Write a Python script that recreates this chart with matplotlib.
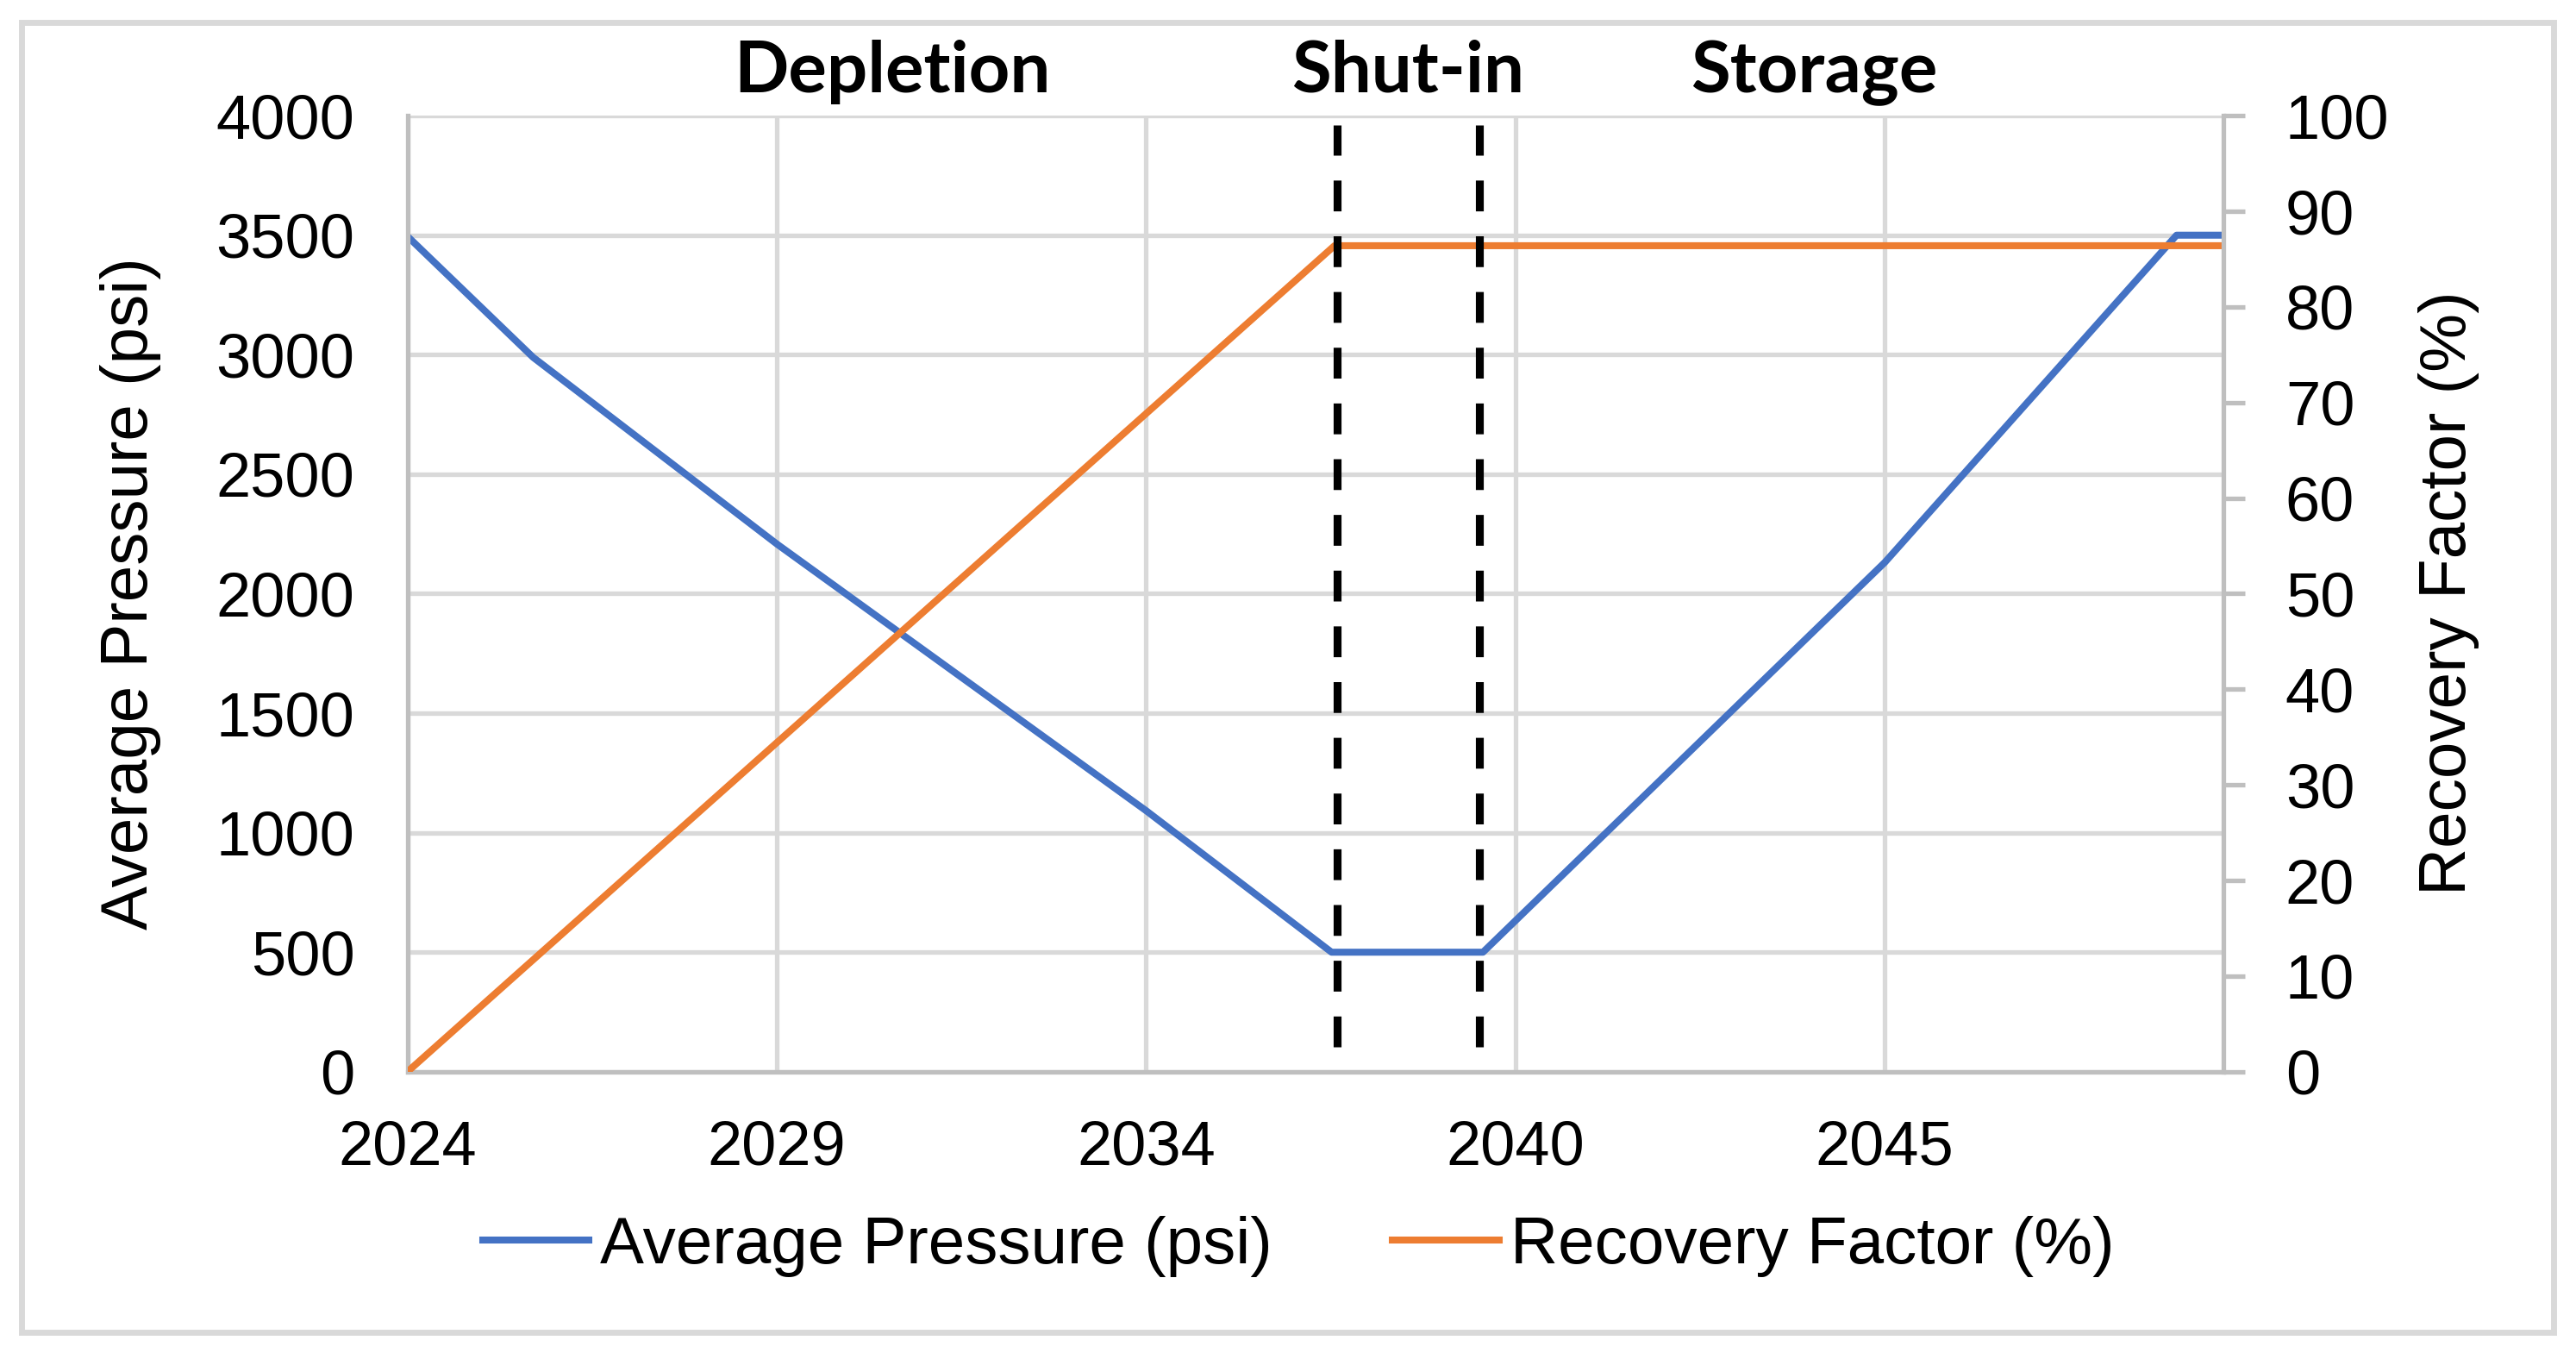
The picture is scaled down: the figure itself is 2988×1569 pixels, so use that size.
import numpy as np
import matplotlib.pyplot as plt
from matplotlib.patches import Rectangle

plt.rcParams['font.family'] = ['Liberation Sans', 'DejaVu Sans']

# years after Jan 2024
p_years = [0, 1.70, 5.0, 10.0, 12.51, 14.56, 20.0, 23.95, 24.58]
p_psi = [3495, 2989, 2208, 1092, 500, 500, 2131, 3500, 3500]
rf_years = [0, 12.55, 24.58]
rf_pct = [0, 86.4, 86.4]

x_ticks = [0, 5, 10, 15, 20]
x_labels = ['2024', '2029', '2034', '2040', '2045']
shutin = [12.59, 14.51]
shutin_span = [2.6, 99.0]   # in % (right axis)
phase_names = ['Depletion', 'Shut-in', 'Storage']
phase_x = [6.56, 13.54, 19.04]

blue = '#4472C4'
orange = '#ED7D31'
grey = '#bfbfbf'
grid = '#d9d9d9'

fig = plt.figure(figsize=(14.94, 7.845), dpi=200)
ax = fig.add_axes([0.1582, 0.2079, 0.863 - 0.1582, 0.9145 - 0.2079])
ax2 = ax.twinx()

l1, = ax.plot(p_years, p_psi, color=blue, lw=2.9, label='Average Pressure (psi)')
ax.set_xlim(0, 24.58)
ax.set_ylim(0, 4000)
ax.set_yticks(np.arange(0, 4001, 500))
ax.set_xticks(x_ticks)
ax.set_xticklabels(x_labels)
ax.grid(True, color=grid, lw=1.9)
ax.set_axisbelow(True)
ax.tick_params(axis='y', length=0, pad=22, labelsize=26)
ax.tick_params(axis='x', length=0, pad=20, labelsize=26)
ax.spines['top'].set_visible(False)
ax.spines['right'].set_visible(False)
for s in ['left', 'bottom']:
    ax.spines[s].set_color(grey)
    ax.spines[s].set_linewidth(1.9)

l2, = ax2.plot(rf_years, rf_pct, color=orange, lw=2.9, label='Recovery Factor (%)')
for xs in shutin:
    ax2.plot([xs, xs], shutin_span, color='black', lw=3.3, linestyle=(0, (3.9, 3.15)), zorder=5)
ax2.set_ylim(0, 100)
ax2.set_yticks(np.arange(0, 101, 10))
ax2.tick_params(axis='y', length=9, width=1.9, color=grey, pad=17, labelsize=26)
for s in ['left', 'bottom', 'top']:
    ax2.spines[s].set_visible(False)
ax2.spines['right'].set_color(grey)
ax2.spines['right'].set_linewidth(1.9)

for name, xp in zip(phase_names, phase_x):
    ax.text(xp, 1.0245, name, transform=ax.get_xaxis_transform(), ha='center', va='baseline',
            fontfamily='Lato', fontweight='bold', fontsize=30)

fig.text(152 / 2988, 1 - 688 / 1569, 'Average Pressure (psi)', rotation=90, ha='center', va='center',
         rotation_mode='anchor', fontsize=27.5)
fig.text(2840 / 2988, 1 - 688 / 1569, 'Recovery Factor (%)', rotation=90, ha='center', va='center',
         rotation_mode='anchor', fontsize=27.5)

fig.legend([l1, l2], [l1.get_label(), l2.get_label()], loc='center', bbox_to_anchor=(0.504, 0.079),
           ncol=2, frameon=False, fontsize=27.5, handlelength=1.62, handletextpad=0.17, columnspacing=1.82)

fig.patches.append(Rectangle((0.0084, 0.0153), 0.9829, 0.9681, transform=fig.transFigure,
                             fill=False, edgecolor=grid, lw=2.5))

fig.savefig('out.png', dpi=200)
